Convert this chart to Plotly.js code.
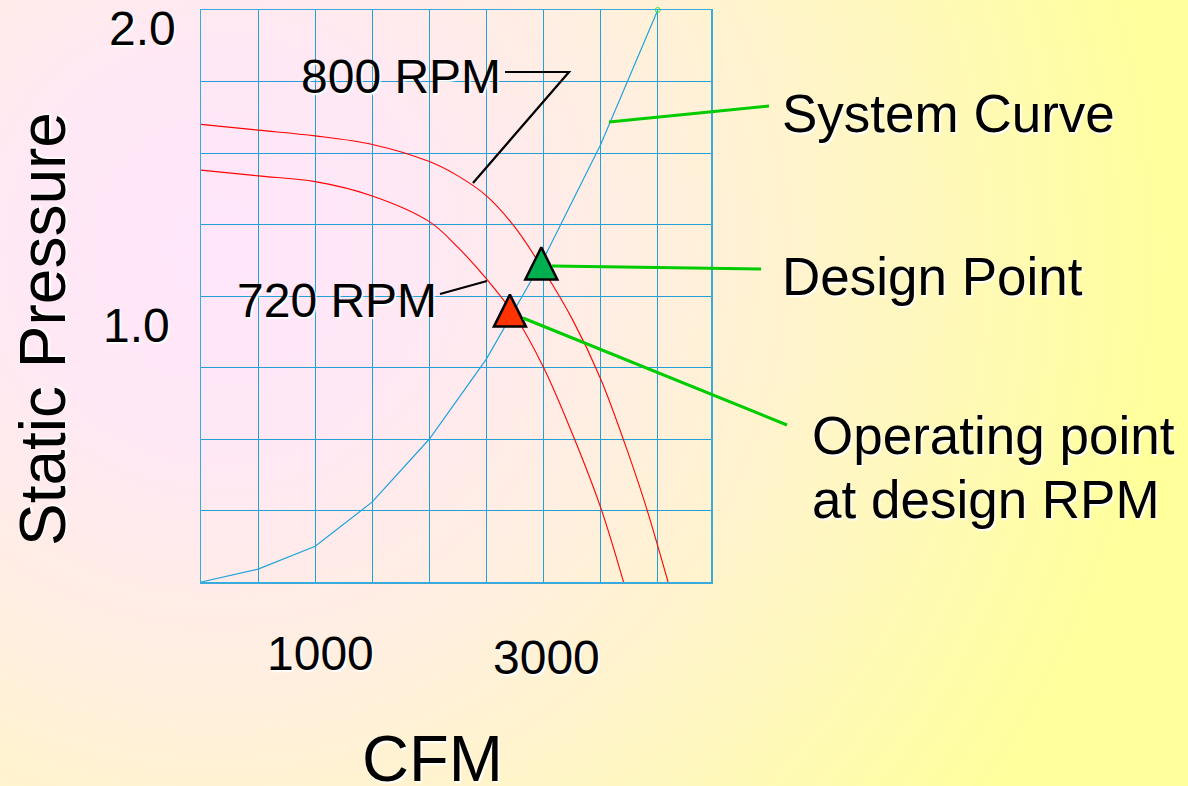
<!DOCTYPE html>
<html>
<head>
<meta charset="utf-8">
<script src="https://cdn.plot.ly/plotly-3.0.1.min.js"></script>
<style>
  html, body { margin: 0; padding: 0; width: 1188px; height: 786px; overflow: hidden; }
  body {
    background: radial-gradient(circle at 220px 250px, #ffe6fb 0px, #ffe8f5 200px, #ffefe0 430px, #fff6c4 650px, #ffff9c 950px);
  }
  #chart { width: 1188px; height: 786px; }
</style>
</head>
<body>
<div id="chart"></div>
<script>
// ---- data ----
const sysX = [0, 500, 1000, 1500, 2000, 2500, 3000, 3500, 4000];
const sysY = [0, 0.045, 0.125, 0.28, 0.5, 0.78, 1.13, 1.53, 2.0];

const rpm800X = [0, 500, 1000, 1500, 2000, 2250, 2500, 2750, 3000, 3250, 3500, 3750, 3900, 4090];
const rpm800Y = [1.60, 1.58, 1.56, 1.53, 1.47, 1.42, 1.35, 1.24, 1.09, 0.92, 0.71, 0.44, 0.26, 0];

const rpm720X = [0, 500, 1000, 1500, 2000, 2250, 2500, 2750, 3000, 3250, 3500, 3700];
const rpm720Y = [1.44, 1.42, 1.40, 1.35, 1.26, 1.17, 1.06, 0.93, 0.75, 0.52, 0.26, 0];

const designPoint = { x: [2980], y: [1.17] };
const operatingPoint = { x: [2705], y: [1.005] };

const xTickVals = [1000, 3000];
const xTickText = ['1000', '3000'];
const yTickVals = [2.0, 1.0];
const yTickText = ['2.0', '1.0'];

// ---- layout geometry ----
const L = 201, R = 711, T = 10, B = 582;
const W = 1188, H = 786;
const px = v => (v - L) / (R - L);
const py = v => (B - v) / (B - T);

const FONT = 'Liberation Sans, Arial, sans-serif';
const glow = '1.5px 1.5px 1.5px #ffffff';
const gridCol = '#23a0d6';

const traces = [
  { x: sysX, y: sysY, mode: 'lines', line: { color: '#22a3da', width: 1.2 }, hoverinfo: 'skip', showlegend: false, name: 'System Curve' },
  { x: rpm800X, y: rpm800Y, mode: 'lines', line: { color: '#ff0000', width: 1.1, shape: 'spline', smoothing: 1 }, showlegend: false, name: '800 RPM' },
  { x: rpm720X, y: rpm720Y, mode: 'lines', line: { color: '#ff0000', width: 1.1, shape: 'spline', smoothing: 1 }, showlegend: false, name: '720 RPM' },
  { x: sysX.slice(-1), y: sysY.slice(-1), mode: 'markers', marker: { symbol: 'circle-open', size: 5, color: '#33ee33', line: { width: 1 } }, showlegend: false, cliponaxis: false },
  { x: designPoint.x, y: designPoint.y, mode: 'markers', cliponaxis: false, showlegend: false, name: 'Design Point',
    marker: { symbol: 'arrow-up', size: 32, color: '#00b050', line: { color: '#000000', width: 2.5 } } },
  { x: operatingPoint.x, y: operatingPoint.y, mode: 'markers', cliponaxis: false, showlegend: false, name: 'Operating point',
    marker: { symbol: 'arrow-up', size: 32, color: '#ff3300', line: { color: '#000000', width: 2.5 } } }
];

function label(text, cx, cy, size, extra) {
  return Object.assign({
    text: text, xref: 'paper', yref: 'paper', x: px(cx), y: py(cy),
    xanchor: 'center', yanchor: 'middle', showarrow: false,
    font: { family: FONT, size: size, color: '#000000', shadow: glow }
  }, extra || {});
}

const annotations = [
  label('800 RPM', 401, 76, 48),
  label('720 RPM', 337, 300, 48),
  label('System Curve', 948, 113, 53),
  label('Design Point', 932, 276, 53),
  label('Operating point', 810, 435, 53, { xanchor: 'left' }),
  label('at design RPM', 810, 499, 53, { xanchor: 'left' }),
  label('Static Pressure', 43, 329, 64, { textangle: -90 }),
  label('CFM', 432, 758, 65)
];
// tick labels (placed like the reference, offset from their grid lines)
const xShift = [5, 3], yShiftX = [-71, -75];
xTickVals.forEach((v, i) => annotations.push({
  text: xTickText[i], xref: 'x', yref: 'paper', x: v, y: 0, xshift: xShift[i], yshift: yShiftX[i],
  xanchor: 'center', yanchor: 'middle', showarrow: false,
  font: { family: FONT, size: 48, color: '#000000', shadow: glow }
}));
const yXShift = [-59, -65], yYShift = [-18, -29];
yTickVals.forEach((v, i) => annotations.push({
  text: yTickText[i], xref: 'paper', yref: 'y', x: 0, y: v, xshift: yXShift[i], yshift: yYShift[i],
  xanchor: 'center', yanchor: 'middle', showarrow: false,
  font: { family: FONT, size: 48, color: '#000000', shadow: glow }
}));

function seg(x0, y0, x1, y1, color, width) {
  return { type: 'line', xref: 'paper', yref: 'paper', x0: px(x0), y0: py(y0), x1: px(x1), y1: py(y1),
           line: { color: color, width: width } };
}
const shapes = [
  { type: 'path', xref: 'paper', yref: 'paper',
    path: 'M' + px(505) + ',' + py(72) + ' L' + px(569) + ',' + py(72) + ' L' + px(473) + ',' + py(183),
    line: { color: '#000000', width: 2.2 } },
  seg(440, 294, 487, 281, '#000000', 2.2),
  seg(609, 122, 769, 106, '#00cc00', 3),
  seg(552, 266, 761, 269, '#00cc00', 3),
  seg(523, 318, 787, 425, '#00cc00', 3)
];

const layout = {
  width: W, height: H, autosize: false,
  margin: { l: L, r: W - R, t: T, b: H - B, pad: 0 },
  paper_bgcolor: 'rgba(0,0,0,0)', plot_bgcolor: 'rgba(0,0,0,0)',
  showlegend: false,
  xaxis: { range: [0, 4466], tick0: 0, dtick: 500, showgrid: true, gridcolor: gridCol, gridwidth: 1,
           zeroline: false, showticklabels: false, ticks: '', showline: true, mirror: true,
           linecolor: '#3aa9dc', linewidth: 1.5, fixedrange: true },
  yaxis: { range: [0, 2], tick0: 0, dtick: 0.25, showgrid: true, gridcolor: gridCol, gridwidth: 1,
           zeroline: false, showticklabels: false, ticks: '', showline: true, mirror: true,
           linecolor: '#3aa9dc', linewidth: 1.5, fixedrange: true },
  annotations: annotations,
  shapes: shapes
};

Plotly.newPlot('chart', traces, layout, { displayModeBar: false, staticPlot: true });
</script>
</body>
</html>
